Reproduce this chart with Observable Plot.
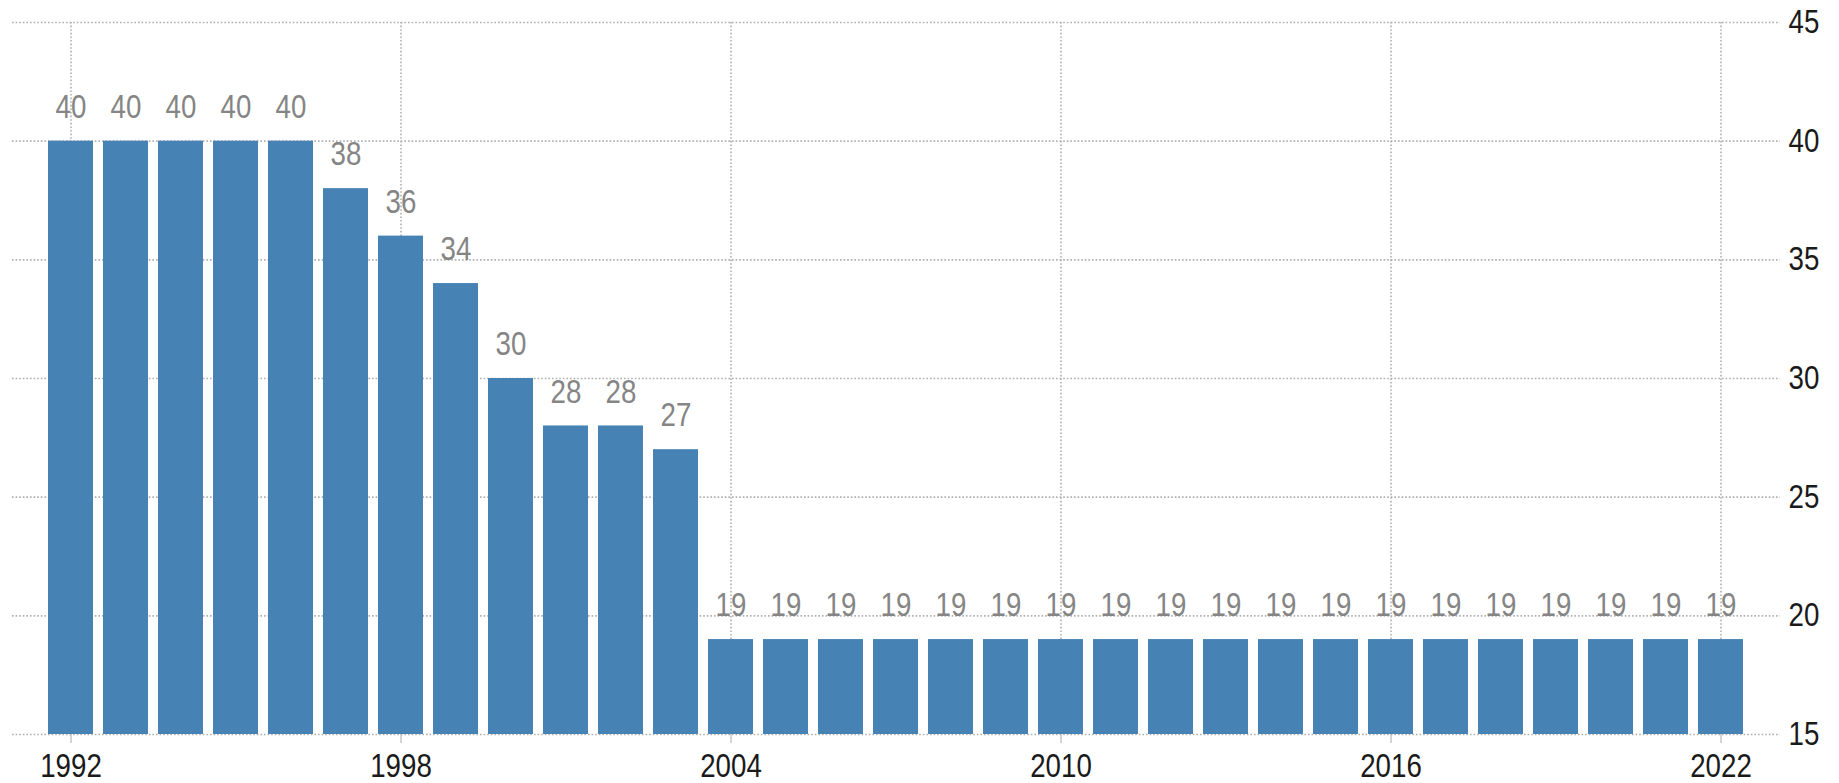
<!DOCTYPE html>
<html>
<head>
<meta charset="utf-8">
<script src="https://cdn.jsdelivr.net/npm/d3@7"></script>
<script src="https://cdn.jsdelivr.net/npm/@observablehq/plot@0.6"></script>
<style>
  html, body { margin: 0; padding: 0; background: #fff; }
  #chart svg { display: block; }
</style>
</head>
<body>
<div id="chart"></div>
<script>
const years = [1992, 1993, 1994, 1995, 1996, 1997, 1998, 1999, 2000, 2001, 2002, 2003,
  2004, 2005, 2006, 2007, 2008, 2009, 2010, 2011, 2012, 2013, 2014, 2015, 2016,
  2017, 2018, 2019, 2020, 2021, 2022];
const values = [40, 40, 40, 40, 40, 38, 36, 34, 30, 28, 28, 27,
  19, 19, 19, 19, 19, 19, 19, 19, 19, 19, 19, 19, 19,
  19, 19, 19, 19, 19, 19];
const xTicks = [1992, 1998, 2004, 2010, 2016, 2022];
const yTicks = [15, 20, 25, 30, 35, 40, 45];

const data = years.map((year, i) => ({year, value: values[i]}));
const font = "'Liberation Sans', Arial, sans-serif";
const baseline = yTicks[0];

const chart = Plot.plot({
  width: 1839,
  height: 783,
  marginTop: 22,
  marginBottom: 49,
  marginLeft: 12,
  marginRight: 59,
  style: {fontFamily: font, fontSize: "33px", background: "#fff", overflow: "visible"},
  x: {type: "band", domain: years, paddingInner: 0.18, paddingOuter: 0.575, label: null},
  y: {domain: [15, 45], label: null},
  marks: [
    Plot.gridY(yTicks, {stroke: "#b0b0b0", strokeOpacity: 1, strokeWidth: 1.6, strokeDasharray: "1.6,2"}),
    Plot.gridX(xTicks, {stroke: "#b0b0b0", strokeOpacity: 1, strokeWidth: 1.6, strokeDasharray: "1.6,2"}),
    Plot.barY(data, {x: "year", y1: baseline, y2: "value", fill: "#4682b4"}),
    Plot.text(data, {x: "year", y: "value", text: d => String(d.value), fill: "#858585",
      fontSize: 33, lineAnchor: "middle", dy: -34}),
    Plot.axisX(xTicks, {anchor: "bottom", tickSize: 9, tickPadding: 10, stroke: "#aaa",
      fill: "#1a1a1a", fontSize: 33, tickFormat: d => String(d), label: null}),
    Plot.axisY(yTicks, {anchor: "right", tickSize: 0, tickPadding: 8, fill: "#1a1a1a",
      fontSize: 33, label: null})
  ]
});
document.getElementById("chart").appendChild(chart);

// condense the glyphs horizontally (narrow face), scaling about each text's anchor point
const sx = 0.84;
chart.querySelectorAll("text").forEach(t => {
  const b = t.getBBox();
  const anchor = getComputedStyle(t).textAnchor || t.getAttribute("text-anchor");
  const ax = anchor === "start" ? b.x : anchor === "end" ? b.x + b.width : b.x + b.width / 2;
  const prev = t.getAttribute("transform") || "";
  t.setAttribute("transform", `${prev} translate(${ax},0) scale(${sx},1) translate(${-ax},0)`.trim());
});
</script>
</body>
</html>
